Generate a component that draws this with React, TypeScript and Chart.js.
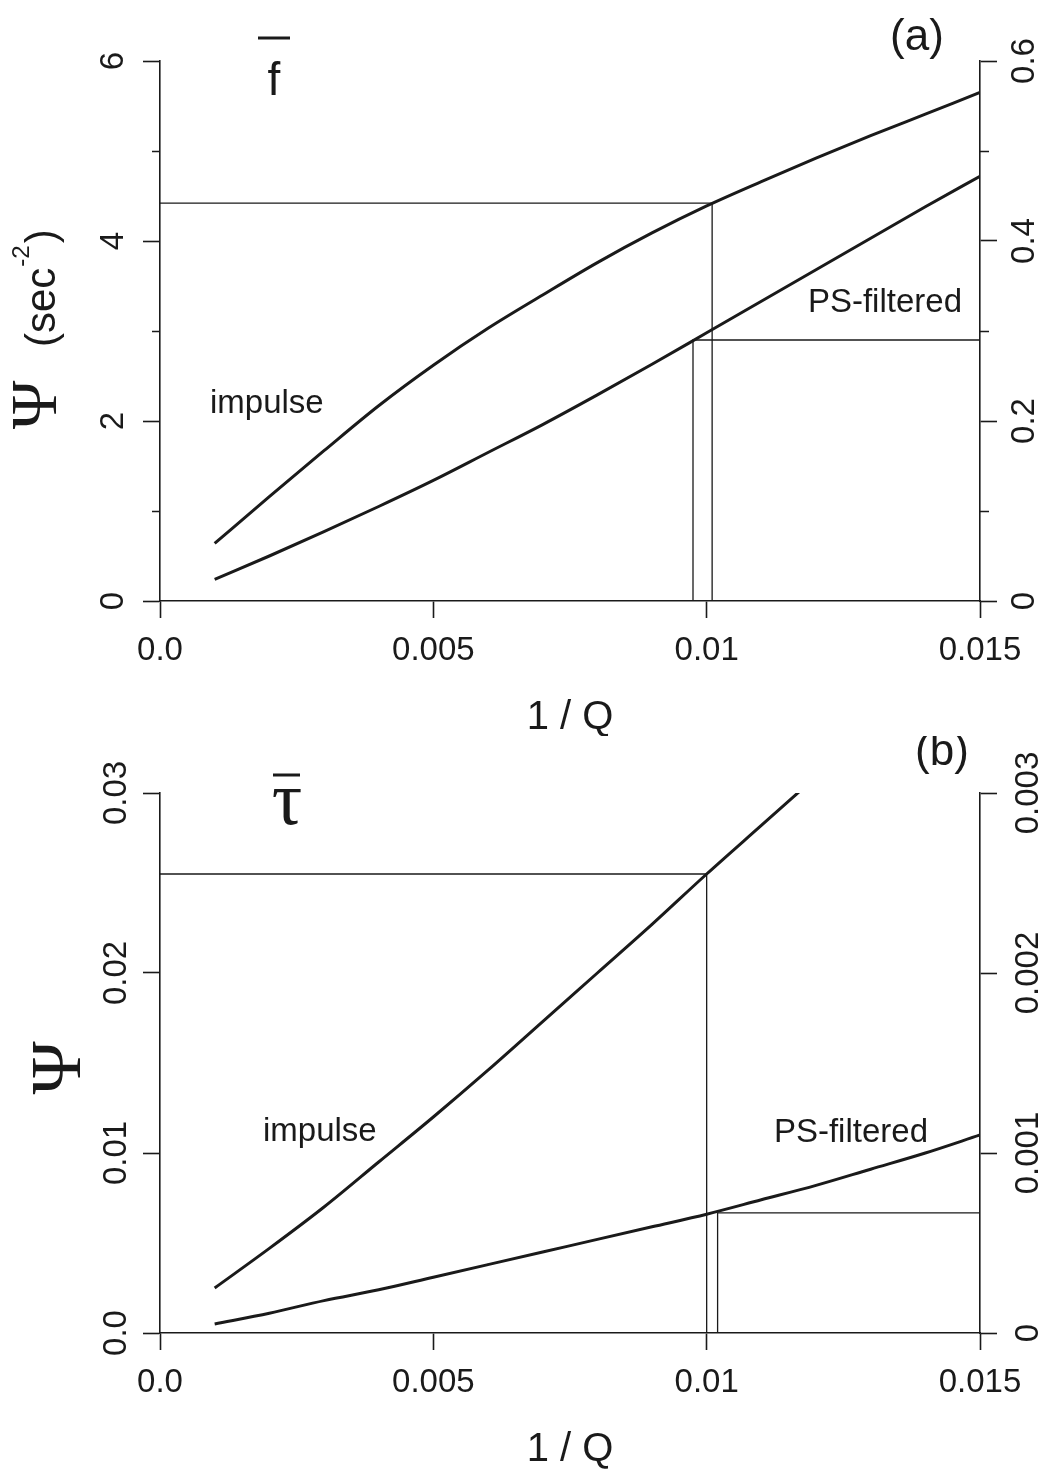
import React, { useEffect, useRef } from "react";
import { Chart, registerables } from "chart.js";

Chart.register(...registerables);

// ---------- data ----------
const qValues = [0.001, 0.002, 0.003, 0.004, 0.005, 0.006, 0.007, 0.008, 0.009, 0.01, 0.011, 0.012, 0.013, 0.014, 0.015];

// panel (a): f-bar
const impulseA = [0.64, 1.16, 1.67, 2.17, 2.62, 3.03, 3.40, 3.76, 4.09, 4.39, 4.66, 4.92, 5.17, 5.41, 5.65];
const filteredA = [0.24, 0.50, 0.77, 1.05, 1.34, 1.65, 1.96, 2.29, 2.63, 2.98, 3.33, 3.68, 4.03, 4.38, 4.72];
const guideImpulseAX = [0, 0.0101, 0.0101];
const guideImpulseAY = [4.42, 4.42, 0];
const guideFilteredAX = [0.00975, 0.00975, 0.015];
const guideFilteredAY = [0, 2.9, 2.9];

// panel (b): tau-bar
const impulseB = [0.0025, 0.0047, 0.0070, 0.0095, 0.0120, 0.0146, 0.0173, 0.0200, 0.0227, 0.0255, 0.0282, 0.0309];
const filteredB = [0.0005, 0.0011, 0.0018, 0.0024, 0.0031, 0.0038, 0.0045, 0.0052, 0.0059, 0.0066, 0.0074, 0.0082, 0.0091, 0.0100, 0.0110];
const guideImpulseBX = [0, 0.01, 0.01];
const guideImpulseBY = [0.0255, 0.0255, 0];
const guideFilteredBX = [0.0102, 0.0102, 0.015];
const guideFilteredBY = [0, 0.00667, 0.00667];

// axes
const xTicks = [0, 0.005, 0.01, 0.015];
const xTickLabels = ["0.0", "0.005", "0.01", "0.015"];
const yLeftTicksA = [0, 2, 4, 6];
const yLeftLabelsA = ["0", "2", "4", "6"];
const yMinorA = [1, 3, 5];
const yRightTicksA = [0, 0.2, 0.4, 0.6];
const yRightLabelsA = ["0", "0.2", "0.4", "0.6"];
const yLeftTicksB = [0, 0.01, 0.02, 0.03];
const yLeftLabelsB = ["0.0", "0.01", "0.02", "0.03"];
const yRightTicksB = [0, 0.001, 0.002, 0.003];
const yRightLabelsB = ["0", "0.001", "0.002", "0.003"];

// ---------- helpers ----------
const SANS = "'Liberation Sans', Arial, Helvetica, sans-serif";
const SERIF = "'Liberation Serif', 'DejaVu Serif', serif";
const INK = "#1a1a1a";
const W = 1046;
const H = 736;

function pts(xs: number[], ys: number[]) {
  return ys.map((y, i) => ({ x: xs[i], y }));
}

function curve(xs: number[], ys: number[]) {
  return {
    data: pts(xs, ys),
    borderColor: INK,
    borderWidth: 3,
    pointRadius: 0,
    fill: false,
    cubicInterpolationMode: "monotone" as const,
  };
}

function guide(xs: number[], ys: number[]) {
  return {
    data: pts(xs, ys),
    borderColor: INK,
    borderWidth: 1.3,
    pointRadius: 0,
    fill: false,
    tension: 0,
  };
}

function text(
  ctx: CanvasRenderingContext2D,
  s: string,
  x: number,
  y: number,
  font: string,
  align: CanvasTextAlign = "center",
  baseline: CanvasTextBaseline = "middle",
  rot = 0
) {
  ctx.save();
  ctx.translate(x, y);
  if (rot) ctx.rotate(rot);
  ctx.font = font;
  ctx.fillStyle = INK;
  ctx.textAlign = align;
  ctx.textBaseline = baseline;
  ctx.fillText(s, 0, 0);
  ctx.restore();
}

function hline(ctx: CanvasRenderingContext2D, x1: number, x2: number, y: number, w: number) {
  ctx.save();
  ctx.strokeStyle = INK;
  ctx.lineWidth = w;
  ctx.beginPath();
  ctx.moveTo(x1, y);
  ctx.lineTo(x2, y);
  ctx.stroke();
  ctx.restore();
}

type PanelSpec = {
  datasets: any[];
  yMax: number;
  y2Max: number;
  leftTicks: number[];
  leftLabels: string[];
  rightTicks: number[];
  rightLabels: string[];
  leftPad: number;
  rightPad: number;
  topPad: number;
  xAxisH: number;
  titlePadBottom: number;
  decorate: (chart: Chart) => void;
};

function axisCommon() {
  return {
    grid: { drawOnChartArea: false, drawTicks: true, tickLength: 17, tickWidth: 1.6, tickColor: INK },
    border: { display: true, color: INK, width: 1.6 },
  };
}

function buildConfig(p: PanelSpec): any {
  const tickFont = { family: SANS, size: 33 };
  return {
    type: "line",
    data: { datasets: p.datasets },
    options: {
      responsive: false,
      animation: false,
      devicePixelRatio: 1,
      events: [],
      layout: { padding: { top: p.topPad, left: 0, right: 0, bottom: 0 } },
      plugins: { legend: { display: false }, tooltip: { enabled: false }, title: { display: false } },
      scales: {
        x: {
          type: "linear",
          position: "bottom",
          min: 0,
          max: 0.015,
          afterBuildTicks: (s: any) => {
            s.ticks = xTicks.map((v) => ({ value: v }));
          },
          afterFit: (s: any) => {
            s.height = p.xAxisH;
          },
          ticks: {
            callback: (_v: any, i: number) => xTickLabels[i],
            font: tickFont,
            color: INK,
            padding: 13,
            maxRotation: 0,
            minRotation: 0,
            autoSkip: false,
          },
          title: {
            display: true,
            text: "1 / Q",
            font: { family: SANS, size: 40, lineHeight: 1 },
            color: INK,
            padding: { top: 0, bottom: p.titlePadBottom },
          },
          ...axisCommon(),
        },
        y: {
          type: "linear",
          position: "left",
          min: 0,
          max: p.yMax,
          afterBuildTicks: (s: any) => {
            s.ticks = p.leftTicks.map((v) => ({ value: v }));
          },
          afterFit: (s: any) => {
            s.width = 160;
          },
          ticks: {
            callback: (_v: any, i: number) => p.leftLabels[i],
            font: tickFont,
            color: INK,
            padding: p.leftPad,
            minRotation: 90,
            maxRotation: 90,
            crossAlign: "center",
            autoSkip: false,
          },
          ...axisCommon(),
        },
        y2: {
          type: "linear",
          position: "right",
          min: 0,
          max: p.y2Max,
          afterBuildTicks: (s: any) => {
            s.ticks = p.rightTicks.map((v) => ({ value: v }));
          },
          afterFit: (s: any) => {
            s.width = W - 980;
          },
          ticks: {
            callback: (_v: any, i: number) => p.rightLabels[i],
            font: tickFont,
            color: INK,
            padding: p.rightPad,
            minRotation: 90,
            maxRotation: 90,
            crossAlign: "center",
            autoSkip: false,
          },
          ...axisCommon(),
        },
      },
    },
    plugins: [
      {
        id: "decor",
        afterDraw: (chart: Chart) => p.decorate(chart),
      },
    ],
  };
}

// ---------- panel specs ----------
const panelA: PanelSpec = {
  datasets: [
    curve(qValues, impulseA),
    curve(qValues, filteredA),
    guide(guideImpulseAX, guideImpulseAY),
    guide(guideFilteredAX, guideFilteredAY),
  ],
  yMax: 6,
  y2Max: 0.6,
  leftTicks: yLeftTicksA,
  leftLabels: yLeftLabelsA,
  rightTicks: yRightTicksA,
  rightLabels: yRightLabelsA,
  leftPad: 20,
  rightPad: 5,
  topPad: 61,
  xAxisH: H - 601,
  titlePadBottom: -2,
  decorate: (chart: Chart) => {
    const ctx = chart.ctx;
    const area = chart.chartArea;
    const ys = chart.scales.y;
    // minor ticks
    ctx.save();
    ctx.strokeStyle = INK;
    ctx.lineWidth = 1.6;
    for (const v of yMinorA) {
      const py = Math.round(ys.getPixelForValue(v)) + 0.5;
      ctx.beginPath();
      ctx.moveTo(area.left - 8, py);
      ctx.lineTo(area.left, py);
      ctx.moveTo(area.right, py);
      ctx.lineTo(area.right + 9, py);
      ctx.stroke();
    }
    ctx.restore();
    // f-bar
    text(ctx, "f", 274, 95, `46px ${SANS}`, "center", "alphabetic");
    hline(ctx, 258, 290, 38, 3);
    // (a)
    text(ctx, "(a)", 917, 38, `44px ${SANS}`);
    // labels
    text(ctx, "impulse", 210, 404, `33px ${SANS}`, "left");
    text(ctx, "PS-filtered", 962, 303, `33px ${SANS}`, "right");
    // y title
    text(ctx, "\u03A8", 39, 405, `66px ${SERIF}`, "center", "middle", -Math.PI / 2);
    ctx.save();
    ctx.translate(55, 347);
    ctx.rotate(-Math.PI / 2);
    ctx.fillStyle = INK;
    ctx.textBaseline = "alphabetic";
    ctx.textAlign = "left";
    ctx.font = `42px ${SANS}`;
    const w1 = ctx.measureText("(sec").width;
    ctx.fillText("(sec", 0, 0);
    ctx.font = `24px ${SANS}`;
    const w2 = ctx.measureText("-2").width;
    ctx.fillText("-2", w1 + 1, -26);
    ctx.font = `42px ${SANS}`;
    ctx.fillText(")", w1 + w2 + 3, 0);
    ctx.restore();
  },
};

const OFF_B = 736;
const panelB: PanelSpec = {
  datasets: [
    curve(qValues.slice(0, impulseB.length), impulseB),
    curve(qValues, filteredB),
    guide(guideImpulseBX, guideImpulseBY),
    guide(guideFilteredBX, guideFilteredBY),
  ],
  yMax: 0.03,
  y2Max: 0.003,
  leftTicks: yLeftTicksB,
  leftLabels: yLeftLabelsB,
  rightTicks: yRightTicksB,
  rightLabels: yRightLabelsB,
  leftPad: -6,
  rightPad: -9,
  topPad: 793 - OFF_B,
  xAxisH: H - (1333 - OFF_B),
  titlePadBottom: 2,
  decorate: (chart: Chart) => {
    const ctx = chart.ctx;
    // tau-bar
    text(ctx, "\u03C4", 287, 824 - OFF_B, `76px ${SERIF}`, "center", "alphabetic");
    hline(ctx, 273, 300, 775 - OFF_B, 3);
    // (b)
    text(ctx, "(b)", 942, 753 - OFF_B, `44px ${SANS}`);
    // labels
    text(ctx, "impulse", 263, 1132 - OFF_B, `33px ${SANS}`, "left");
    text(ctx, "PS-filtered", 928, 1133 - OFF_B, `33px ${SANS}`, "right");
    // y title
    text(ctx, "\u03A8", 61, 1068 - OFF_B, `72px ${SERIF}`, "center", "middle", -Math.PI / 2);
  },
};

// ---------- components ----------
function Panel({ spec, top }: { spec: PanelSpec; top: number }) {
  const ref = useRef<HTMLCanvasElement | null>(null);
  useEffect(() => {
    if (!ref.current) return;
    const chart = new Chart(ref.current, buildConfig(spec));
    return () => chart.destroy();
  }, [spec]);
  return (
    <canvas
      ref={ref}
      width={W}
      height={H}
      style={{ position: "absolute", left: 0, top, width: W, height: H, display: "block" }}
    />
  );
}

export default function App() {
  return (
    <div
      style={{
        position: "absolute",
        left: 0,
        top: 0,
        width: W,
        height: 1472,
        background: "#ffffff",
        overflow: "hidden",
      }}
    >
      <Panel spec={panelA} top={0} />
      <Panel spec={panelB} top={OFF_B} />
    </div>
  );
}
